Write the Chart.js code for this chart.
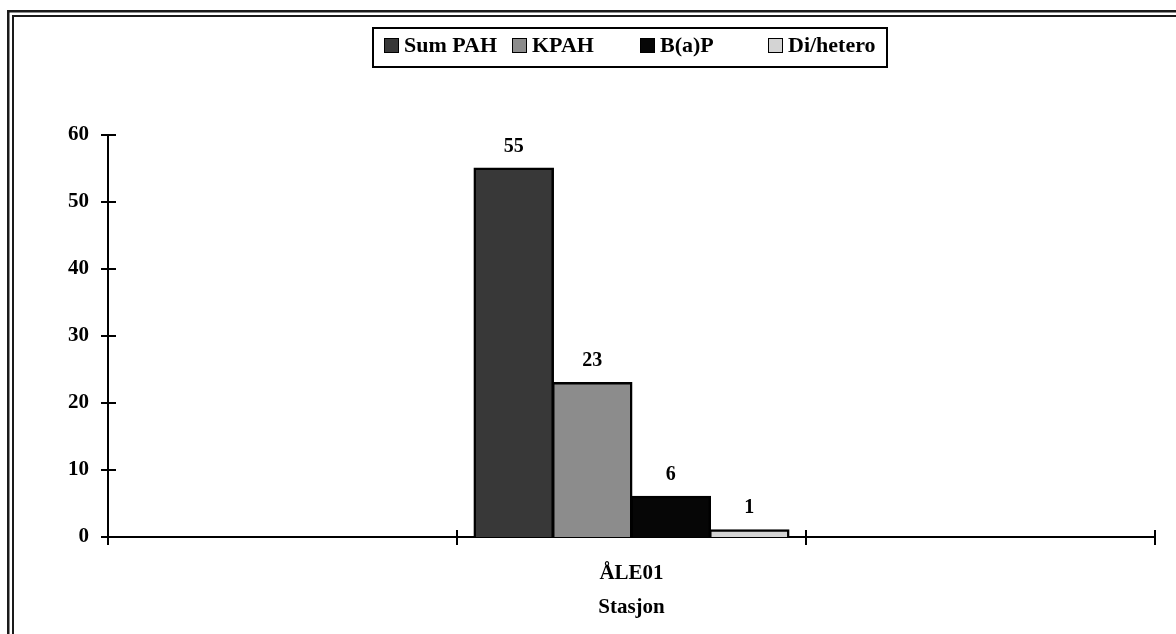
<!DOCTYPE html>
<html>
<head>
<meta charset="utf-8">
<script src="https://cdn.jsdelivr.net/npm/chart.js@4.4.0/dist/chart.umd.min.js"></script>
<style>
html,body{margin:0;padding:0;background:#fff;}
#wrap{width:1176px;height:634px;position:relative;overflow:hidden;}
canvas{display:block;}
</style>
</head>
<body>
<div id="wrap"><canvas id="c" width="1176" height="634"></canvas></div>
<script>
// ---- data ----
const categories = ['', 'ÅLE01', ''];
const seriesNames = ['Sum PAH', 'KPAH', 'B(a)P', 'Di/hetero'];
const sumPAH   = [null, 55, null];
const kpah     = [null, 23, null];
const bap      = [null, 6, null];
const dihetero = [null, 1, null];
const yTickValues = [0, 10, 20, 30, 40, 50, 60];
const xTitle = 'Stasjon';

// ---- styles ----
const seriesColors = ['#383838', '#8c8c8c', '#060606', '#d4d4d4'];
const FONT = '"Liberation Serif", "Times New Roman", serif';

const frame = {
  id: 'frame',
  beforeDraw(chart) {
    const ctx = chart.ctx;
    ctx.save();
    ctx.fillStyle = '#fff';
    ctx.fillRect(0, 0, chart.width, chart.height);
    ctx.strokeStyle = '#1a1a1a';
    ctx.lineWidth = 2.5;
    ctx.strokeRect(8.25, 11.25, 1300, 700);
    ctx.lineWidth = 2;
    ctx.strokeRect(13, 16, 1300, 700);
    ctx.restore();
  }
};

const customTicks = {
  id: 'customTicks',
  afterDraw(chart) {
    const ctx = chart.ctx;
    const ys = chart.scales.y, xs = chart.scales.x;
    ctx.save();
    ctx.strokeStyle = '#000';
    ctx.lineWidth = 2;
    ctx.beginPath();
    yTickValues.forEach(v => {
      const py = Math.round(ys.getPixelForValue(v));
      ctx.moveTo(xs.left - 7, py);
      ctx.lineTo(xs.left + 8, py);
    });
    for (let i = 0; i <= categories.length; i++) {
      const px = Math.round(xs.getPixelForValue(i - 0.5));
      ctx.moveTo(px, ys.bottom - 7);
      ctx.lineTo(px, ys.bottom + 8);
    }
    ctx.stroke();
    ctx.restore();
  }
};

const valueLabels = {
  id: 'valueLabels',
  afterDatasetsDraw(chart) {
    const ctx = chart.ctx;
    ctx.save();
    ctx.fillStyle = '#000';
    ctx.font = 'bold 20px ' + FONT;
    ctx.textAlign = 'center';
    ctx.textBaseline = 'middle';
    chart.data.datasets.forEach((ds, di) => {
      const meta = chart.getDatasetMeta(di);
      meta.data.forEach((el, i) => {
        const v = ds.data[i];
        if (v === null || v === undefined) return;
        ctx.fillText(String(v), el.x, el.y - 22);
      });
    });
    ctx.restore();
  }
};

const boxLegend = {
  id: 'boxLegend',
  afterDraw(chart) {
    const ctx = chart.ctx;
    ctx.save();
    ctx.strokeStyle = '#000';
    ctx.lineWidth = 2;
    ctx.strokeRect(373, 28, 514, 39);
    ctx.font = 'bold 22px ' + FONT;
    ctx.textBaseline = 'middle';
    ctx.textAlign = 'left';
    chart.data.datasets.forEach((ds, i) => {
      const x = 384 + i * 128;
      ctx.fillStyle = ds.backgroundColor;
      ctx.fillRect(x, 38, 15, 15);
      ctx.lineWidth = 1;
      ctx.strokeRect(x + 0.5, 38.5, 14, 14);
      ctx.fillStyle = '#000';
      ctx.fillText(ds.label, x + 20, 46);
    });
    ctx.restore();
  }
};

const seriesData = [sumPAH, kpah, bap, dihetero];

new Chart(document.getElementById('c'), {
  type: 'bar',
  data: {
    labels: categories,
    datasets: seriesNames.map((name, i) => ({
      label: name,
      data: seriesData[i],
      backgroundColor: seriesColors[i],
      borderColor: '#000',
      borderWidth: 2.5,
      inflateAmount: 1,
      categoryPercentage: 0.9,
      barPercentage: 1.0
    }))
  },
  options: {
    responsive: false,
    animation: false,
    devicePixelRatio: 1,
    layout: { padding: { top: 135, left: 0, right: 21, bottom: 0 } },
    plugins: {
      legend: { display: false },
      tooltip: { enabled: false },
      title: { display: false }
    },
    scales: {
      x: {
        type: 'category',
        offset: true,
        grid: { display: false, drawTicks: false, offset: true },
        border: { display: true, color: '#000', width: 2 },
        ticks: {
          color: '#000',
          font: { family: FONT, size: 21, weight: 'bold' },
          padding: 24,
          maxRotation: 0,
          autoSkip: false
        },
        title: {
          display: true,
          text: xTitle,
          color: '#000',
          font: { family: FONT, size: 21, weight: 'bold' },
          padding: { top: 0, bottom: 14 }
        },
        afterFit(scale) { scale.height = 97; }
      },
      y: {
        min: 0,
        max: 60,
        grid: { display: false, drawTicks: false },
        border: { display: true, color: '#000', width: 2 },
        ticks: {
          stepSize: 10,
          color: '#000',
          font: { family: FONT, size: 21, weight: 'bold' },
          padding: 19
        },
        afterFit(scale) { scale.width = 108; }
      }
    }
  },
  plugins: [frame, valueLabels, customTicks, boxLegend]
});
</script>
</body>
</html>
